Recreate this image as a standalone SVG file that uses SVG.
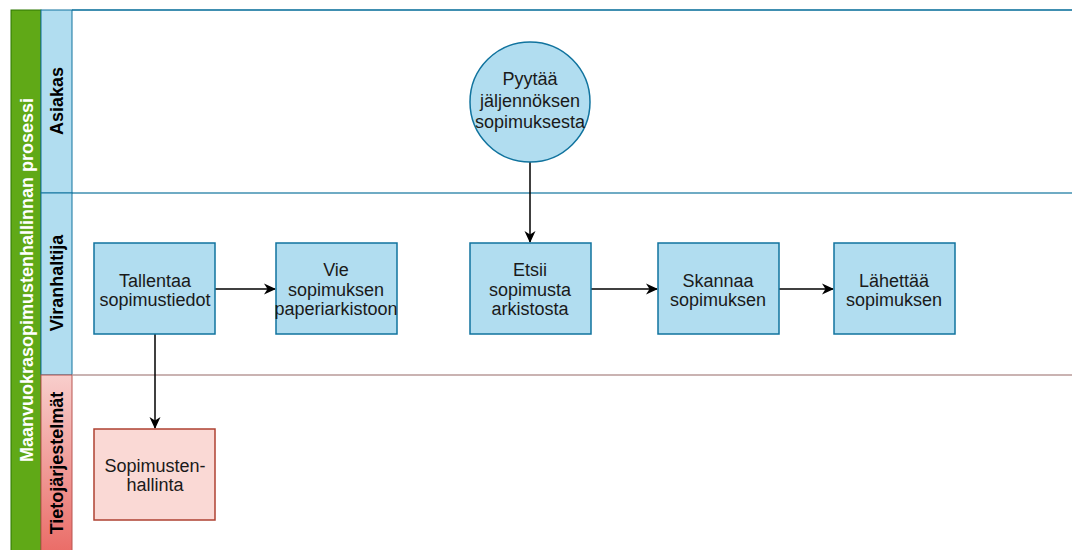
<svg xmlns="http://www.w3.org/2000/svg" width="1072" height="550" viewBox="0 0 1072 550">
  <defs>
    <linearGradient id="redLane" x1="0" y1="0" x2="0" y2="1">
      <stop offset="0" stop-color="#f8cecc"/>
      <stop offset="1" stop-color="#ea6b66"/>
    </linearGradient>
    <marker id="arrow" viewBox="0 0 12 12" refX="11" refY="6" markerWidth="12" markerHeight="12" markerUnits="userSpaceOnUse" orient="auto">
      <path d="M0,0.5 L12,6 L0,11.5 L3.5,6 Z" fill="#000"/>
    </marker>
    <style>
      .label { font-family: "Liberation Sans", Arial, sans-serif; font-size: 18px; fill: #1a1a1a; text-anchor: middle; }
      .lane-title { font-family: "Liberation Sans", Arial, sans-serif; font-size: 18px; font-weight: bold; fill: #000; text-anchor: middle; }
      .pool-title { font-family: "Liberation Sans", Arial, sans-serif; font-size: 18px; font-weight: bold; fill: #fff; text-anchor: middle; }
      .task { fill: #b1ddf0; stroke: #10739e; stroke-width: 1.5; }
      .system { fill: #fad9d5; stroke: #ae4132; stroke-width: 1.5; }
      .edge { fill: none; stroke: #000; stroke-width: 1.5; marker-end: url(#arrow); }
    </style>
  </defs>

  <rect width="1072" height="550" fill="#fff"/>

  <!-- Pool -->
  <g id="pool">
    <rect x="11" y="10" width="30" height="545" fill="#60a917" stroke="#2d7600" stroke-width="1"/>
    <text class="pool-title" transform="translate(33,280) rotate(-90)">Maanvuokrasopimustenhallinnan prosessi</text>
  </g>

  <!-- Lanes -->
  <g id="lane-asiakas">
    <rect x="41" y="10" width="31" height="183" fill="#b1ddf0" stroke="#10739e" stroke-width="1"/>
    <line x1="72" y1="10" x2="1072" y2="10" stroke="#10739e" stroke-width="2" stroke-opacity="0.8"/>
    <text class="lane-title" transform="translate(63,101) rotate(-90)">Asiakas</text>
  </g>
  <g id="lane-viranhaltija">
    <rect x="41" y="193" width="31" height="182" fill="#b1ddf0" stroke="#10739e" stroke-width="1"/>
    <line x1="72" y1="193" x2="1072" y2="193" stroke="#10739e" stroke-width="1.5" stroke-opacity="0.8"/>
    <text class="lane-title" transform="translate(63,283) rotate(-90)">Viranhaltija</text>
  </g>
  <g id="lane-tietojarjestelmat">
    <rect x="41" y="375" width="31" height="180" fill="url(#redLane)" stroke="#b85450" stroke-width="1"/>
    <line x1="72" y1="375" x2="1072" y2="375" stroke="#b89a98" stroke-width="1.5"/>
    <text class="lane-title" transform="translate(63,463) rotate(-90)">Tietojärjestelmät</text>
  </g>

  <!-- Connectors -->
  <g id="connectors">
    <path class="edge" d="M530,162 L530,242"/>
    <path class="edge" d="M215,289 L275,289"/>
    <path class="edge" d="M591,289 L657,289"/>
    <path class="edge" d="M779,289 L833,289"/>
    <path class="edge" d="M155,334 L155,428"/>
  </g>

  <!-- Nodes -->
  <g id="pyytaa">
    <circle cx="530" cy="102" r="60" class="task"/>
    <text class="label" x="530" y="85">Pyytää</text>
    <text class="label" x="530" y="107">jäljennöksen</text>
    <text class="label" x="530" y="128">sopimuksesta</text>
  </g>
  <g id="tallentaa">
    <rect x="94" y="243" width="121" height="91" class="task"/>
    <text class="label" x="155" y="287">Tallentaa</text>
    <text class="label" x="155" y="306">sopimustiedot</text>
  </g>
  <g id="vie">
    <rect x="276" y="243" width="121" height="91" class="task"/>
    <text class="label" x="336" y="276">Vie</text>
    <text class="label" x="336" y="296">sopimuksen</text>
    <text class="label" x="336" y="315">paperiarkistoon</text>
  </g>
  <g id="etsii">
    <rect x="470" y="243" width="121" height="91" class="task"/>
    <text class="label" x="530" y="276">Etsii</text>
    <text class="label" x="530" y="296">sopimusta</text>
    <text class="label" x="530" y="315">arkistosta</text>
  </g>
  <g id="skannaa">
    <rect x="658" y="243" width="121" height="91" class="task"/>
    <text class="label" x="718" y="287">Skannaa</text>
    <text class="label" x="718" y="306">sopimuksen</text>
  </g>
  <g id="lahettaa">
    <rect x="834" y="243" width="121" height="91" class="task"/>
    <text class="label" x="894" y="287">Lähettää</text>
    <text class="label" x="894" y="306">sopimuksen</text>
  </g>
  <g id="sopimustenhallinta">
    <rect x="94" y="429" width="121" height="91" class="system"/>
    <text class="label" x="155" y="472">Sopimusten-</text>
    <text class="label" x="155" y="491">hallinta</text>
  </g>
</svg>
